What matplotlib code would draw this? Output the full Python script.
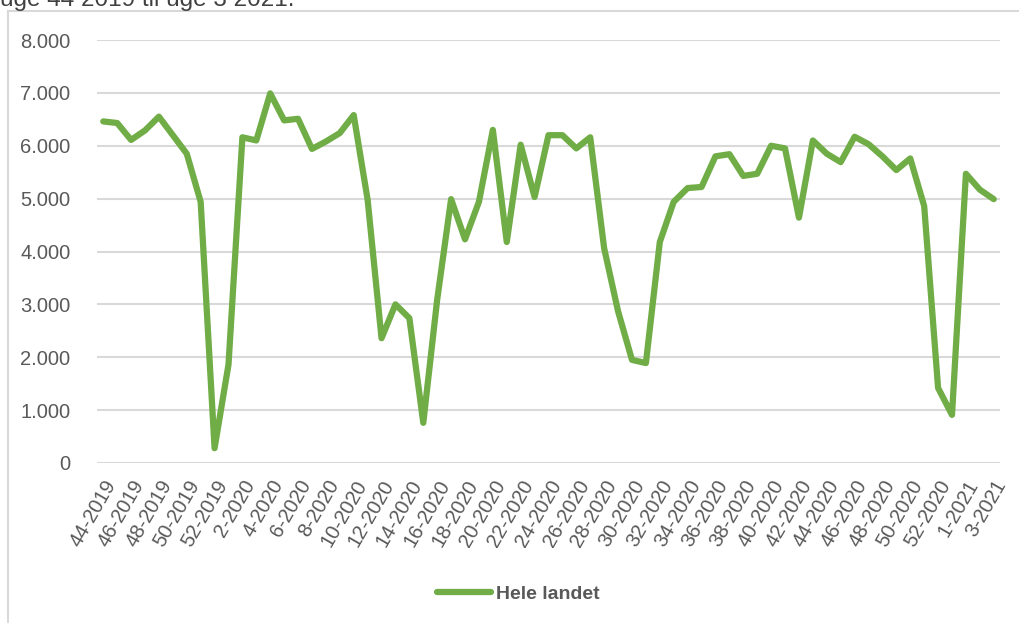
import matplotlib
matplotlib.use('Agg')
import matplotlib.pyplot as plt
from matplotlib.lines import Line2D
from matplotlib.ticker import FuncFormatter

plt.rcParams['font.family'] = ['Liberation Sans', 'DejaVu Sans']

# uger 44-2019 .. 3-2021 (2020 har uge 53)
weeks = [f'{w}-2019' for w in range(44, 53)] + \
        [f'{w}-2020' for w in range(1, 54)] + \
        [f'{w}-2021' for w in range(1, 4)]

values = [6460, 6430, 6110, 6290, 6550, 6200, 5850, 4940, 280, 1860,
          6160, 6100, 6990, 6480, 6510, 5940, 6080, 6240, 6580, 4980,
          2360, 3000, 2740, 760, 3090, 4990, 4230, 4940, 6300, 4180,
          6020, 5030, 6200, 6200, 5950, 6160, 4060, 2870, 1950, 1890,
          4180, 4940, 5200, 5220, 5800, 5840, 5430, 5470, 6000, 5950,
          4640, 6100, 5850, 5690, 6170, 6030, 5800, 5540, 5760, 4860,
          1420, 910, 5470, 5170, 4990]

green = '#70AD47'
grey = '#595959'
grid = '#D9D9D9'

fig = plt.figure(figsize=(10.19, 6.23), dpi=100)
ax = fig.add_axes([97/1019, 1 - 463/623, (1000-97)/1019, (463-40)/623])

x = list(range(len(weeks)))
ax.plot(x, values, color=green, lw=4.5, solid_joinstyle='round', solid_capstyle='round')

ax.set_ylim(0, 8000)
ax.set_xlim(-0.45, len(weeks) - 0.55)
ax.set_yticks(range(0, 8001, 1000))
ax.yaxis.set_major_formatter(FuncFormatter(lambda v, p: f'{int(v):,}'.replace(',', '.')))
ax.set_xticks(x[::2])
ax.set_xticklabels(weeks[::2], rotation=60, ha='right', rotation_mode='anchor')
ax.tick_params(axis='both', length=0, labelsize=14.5, colors=grey)
ax.tick_params(axis='y', pad=19)
ax.tick_params(axis='x', pad=10)
ax.grid(axis='y', color=grid, lw=1.5)
ax.set_axisbelow(True)
for s in ax.spines.values():
    s.set_visible(False)

# legende
leg = fig.legend([Line2D([], [], color=green, lw=4.5, solid_capstyle='round')], ['Hele landet'],
                 loc='center left', bbox_to_anchor=(437/1019, 1 - 594/623),
                 frameon=False, handlelength=2.8, handletextpad=0.25,
                 borderpad=0, borderaxespad=0,
                 prop={'weight': 'bold', 'size': 14})
for t in leg.get_texts():
    t.set_color(grey)

# diagramramme (delvist synlig)
fig.add_artist(Line2D([7.5/1019, 7.5/1019], [0, 1 - 11/623], color=grid, lw=1.5))
fig.add_artist(Line2D([7.5/1019, 1], [1 - 11/623, 1 - 11/623], color=grid, lw=1.5))

# afskåret titel
fig.text(0, 1 - 6/623, 'uge 44 2019 til uge 3 2021.', fontsize=17.5, color='#404040', va='baseline')

fig.savefig('out.png', dpi=100)
